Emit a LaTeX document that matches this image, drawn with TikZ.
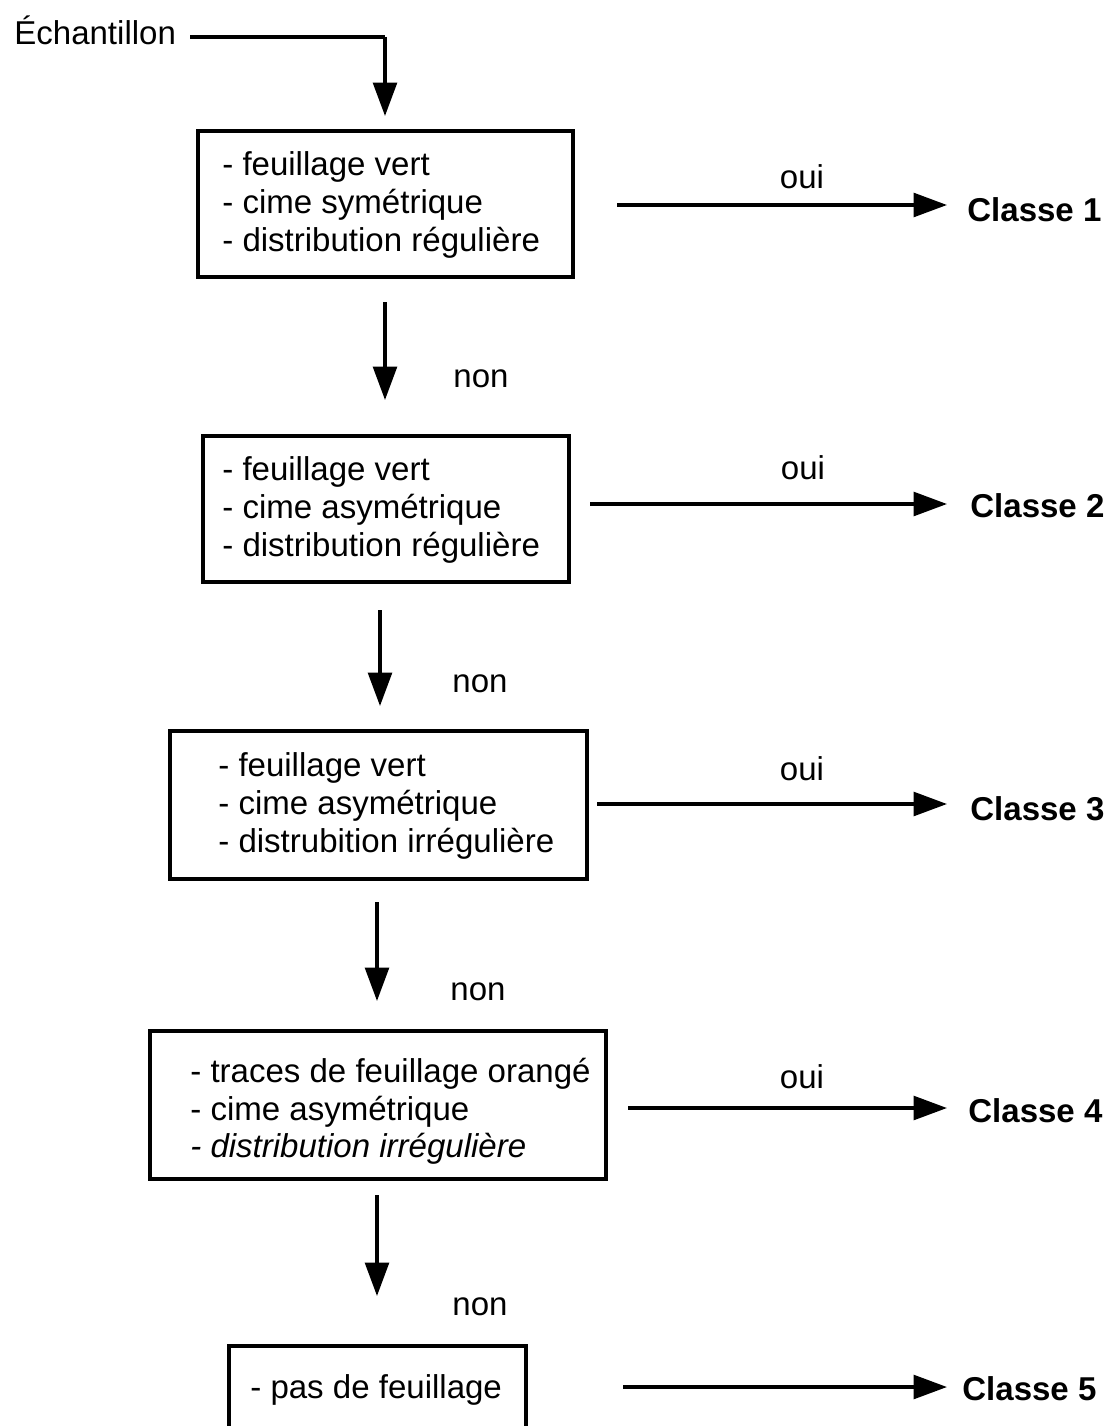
\documentclass[tikz,border=0pt]{standalone}
\usepackage{fontspec}
\setmainfont{Liberation Sans}
\usepackage{tikz}
\usetikzlibrary{arrows.meta, positioning, calc}
\tikzset{
  critbox/.style={line width=2.1pt},
  crittext/.style={anchor=west, inner sep=0pt, font=\fontsize{18.8}{21.6}\selectfont},
  lbl/.style={inner sep=0pt, font=\fontsize{18.8}{21.6}\selectfont},
  classe/.style={anchor=west, inner sep=0pt, font=\fontsize{18.8}{21.6}\selectfont\bfseries},
  arrow/.style={-{Triangle[length=19pt, width=13.5pt]}, line width=2pt},
  line/.style={line width=2pt}
}
\begin{document}
\begin{tikzpicture}[x=0.02cm, y=-0.02cm]
  \useasboundingbox (0,0) rectangle (1110,1426);
  % Entry
  \node (E) at (14,30) [lbl, anchor=west] {Échantillon};
  \coordinate (Ec) at (385,37);
  \coordinate (Et) at (385,116);
  \draw[line] ($(E.east |- Ec)+(14,0)$) -- (Ec);
  \draw[arrow] (Ec) -- (Et);

  % Criteria boxes
  \draw[critbox] (198,131) rectangle (573,277);
  \node (B1) at (222,167) [crittext] {- feuillage vert};
  \node (B1b) at (222,205) [crittext] {- cime symétrique};
  \node (B1c) at (222,243) [crittext] {- distribution régulière};

  \draw[critbox] (203,436) rectangle (569,582);
  \node (B2) at (222,472) [crittext] {- feuillage vert};
  \node (B2b) at (222,510) [crittext] {- cime asymétrique};
  \node (B2c) at (222,548) [crittext] {- distribution régulière};

  \draw[critbox] (170,731) rectangle (587,879);
  \node (B3) at (218,768) [crittext] {- feuillage vert};
  \node (B3b) at (218,806) [crittext] {- cime asymétrique};
  \node (B3c) at (218,844) [crittext] {- distrubition irrégulière};

  \draw[critbox] (150,1031) rectangle (606,1179);
  \node (B4) at (190,1074) [crittext] {- traces de feuillage orangé};
  \node (B4b) at (190,1112) [crittext] {- cime asymétrique};
  \node (B4c) at (190,1149) [crittext] {\itshape - distribution irrégulière};

  \draw[critbox] (229,1460) -- (229,1346) -- (526,1346) -- (526,1460);
  \node (B5) at (250,1390) [crittext] {- pas de feuillage};

  % "non" arrows
  \coordinate (n1a) at (385,302); \coordinate (n1b) at (385,400);
  \coordinate (n2a) at (380,610); \coordinate (n2b) at (380,706);
  \coordinate (n3a) at (377,902); \coordinate (n3b) at (377,1001);
  \coordinate (n4a) at (377,1195); \coordinate (n4b) at (377,1296);
  \draw[arrow] (n1a) -- (n1b);
  \draw[arrow] (n2a) -- (n2b);
  \draw[arrow] (n3a) -- (n3b);
  \draw[arrow] (n4a) -- (n4b);
  \node (N1) at (481,379) [lbl] {non};
  \node (N2) at (480,684) [lbl] {non};
  \node (N3) at (478,992) [lbl] {non};
  \node (N4) at (480,1307) [lbl] {non};

  % Classes
  \node (C1) at (967,210) [classe] {Classe 1};
  \node (C2) at (970,506) [classe] {Classe 2};
  \node (C3) at (970,809) [classe] {Classe 3};
  \node (C4) at (968,1111) [classe] {Classe 4};
  \node (C5) at (962,1389) [classe] {Classe 5};

  % "oui" arrows
  \coordinate (o1) at (617,205);
  \coordinate (o2) at (590,504);
  \coordinate (o3) at (597,804);
  \coordinate (o4) at (628,1108);
  \coordinate (o5) at (623,1387);
  \draw[arrow] (o1) -- ($(o1 -| C1.west)+(-20,0)$);
  \draw[arrow] (o2) -- ($(o2 -| C2.west)+(-23,0)$);
  \draw[arrow] (o3) -- ($(o3 -| C3.west)+(-23,0)$);
  \draw[arrow] (o4) -- ($(o4 -| C4.west)+(-21,0)$);
  \draw[arrow] (o5) -- ($(o5 -| C5.west)+(-15,0)$);
  \node (O1) at (802,177) [lbl] {oui};
  \node (O2) at (803,468) [lbl] {oui};
  \node (O3) at (802,769) [lbl] {oui};
  \node (O4) at (802,1077) [lbl] {oui};
\end{tikzpicture}
\end{document}
